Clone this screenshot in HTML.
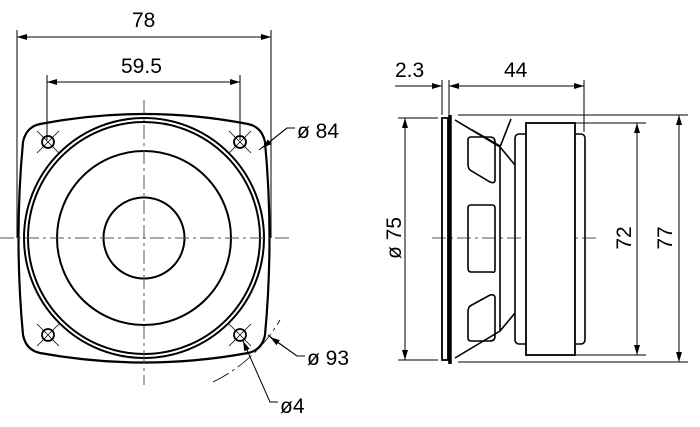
<!DOCTYPE html>
<html><head><style>body{margin:0;background:#fff}svg{display:block}text{font-family:"Liberation Sans",sans-serif;font-size:21px;fill:#000}</style></head><body>
<svg width="700" height="427" viewBox="0 0 700 427" xmlns="http://www.w3.org/2000/svg">
<defs><marker id="a" viewBox="0 0 10 6" refX="10" refY="3" markerWidth="10" markerHeight="6" orient="auto-start-reverse" markerUnits="userSpaceOnUse"><path d="M0,0L10,3L0,6z" fill="#000"/></marker></defs>
<g stroke="#000" fill="none">
<path d="M40,124 Q144,104 248,124 Q262,127 265,142 Q274,238 265,335 Q262,350 248,353 Q144,372 40,353 Q26,350 23,335 Q14,238 23,142 Q26,127 40,124 Z" stroke-width="2.2"/>
<circle cx="144" cy="238" r="120" stroke-width="2"/>
<circle cx="144" cy="238" r="116" stroke-width="2"/>
<circle cx="144" cy="238" r="87" stroke-width="2"/>
<circle cx="144" cy="238" r="40.5" stroke-width="2"/>
<g stroke-width="1.8"><circle cx="48" cy="142" r="6"/><circle cx="240" cy="142" r="6"/><circle cx="48" cy="335" r="6"/><circle cx="240" cy="335" r="6"/></g>
<g stroke-width="0.8"><path d="M37,131L59,153M59,131L37,153M229,131L251,153M251,131L229,153M37,324L59,346M59,324L37,346M229,324L251,346M251,324L229,346"/></g>
<g stroke="#555" stroke-width="1" stroke-dasharray="14,4,3,4"><path d="M0,238H292M144,100V385"/><path d="M432,238H600"/></g>
<g stroke-width="1"><path d="M17,30V238M271,30V238M47,75V140M240,75V140"/>
<path d="M17,37H271" marker-start="url(#a)" marker-end="url(#a)"/>
<path d="M47,82H240" marker-start="url(#a)" marker-end="url(#a)"/>
<path d="M287,128H295M287,128L259,150" /><path d="M287,128L262,148" marker-end="url(#a)"/>
<path d="M305,356H297L268,335" /><path d="M297,356L270,337" marker-end="url(#a)"/>
<path d="M278,402H270L243,341" marker-end="url(#a)"/>
<path d="M213,382 A157,157 0 0 0 280,320" stroke-dasharray="18,4,3,4" stroke-width="0.8"/>
</g>
<rect x="442" y="118" width="6" height="242" stroke-width="1.8"/>
<path d="M450,115V364" stroke-width="3.5"/>
<path d="M455,120L500,147L515,165M455,358L500,331L515,313M500,147V331" stroke-width="1.6"/>
<path d="M472,130L500,146M500,147L511,119" stroke-width="1.6"/>
<g stroke-width="1.6">
<path d="M471,137H490Q495,137 495,142V180Q495,184 490,182L470,170Q468,168 468,164V140Q468,137 471,137Z"/>
<path d="M471,205H492Q495,205 495,208V270Q495,273 492,272L471,272Q468,272 468,268V208Q468,205 471,205Z"/>
<path d="M470,306L490,295Q495,294 495,298V336Q495,341 490,341H471Q468,341 468,338V312Q468,308 470,306Z"/>
</g>
<rect x="515" y="134" width="70" height="210" rx="4" stroke-width="1.6"/>
<rect x="526" y="123" width="49" height="232" fill="#fff" stroke-width="1.8"/>
<g stroke-width="1"><path d="M442,80V115M449,80V115M584,80V132"/>
<path d="M395,86H442" marker-end="url(#a)"/><path d="M449,86H584" marker-start="url(#a)" marker-end="url(#a)"/>
<path d="M398,118H438M398,360H438M458,115H688M458,362H688M570,123H646M570,355H646"/>
<path d="M405,118V360" marker-start="url(#a)" marker-end="url(#a)"/>
<path d="M637,123V355" marker-start="url(#a)" marker-end="url(#a)"/>
<path d="M679,115V362" marker-start="url(#a)" marker-end="url(#a)"/>
</g>
</g>
<text x="132" y="27">78</text>
<text x="121" y="73">59.5</text>
<text x="297" y="138">ø 84</text>
<text x="307" y="365">ø 93</text>
<text x="280" y="413">ø4</text>
<text x="395" y="77">2.3</text>
<text x="504" y="77">44</text>
<text transform="translate(401,238) rotate(-90)" text-anchor="middle">ø 75</text>
<text transform="translate(631,238) rotate(-90)" text-anchor="middle">72</text>
<text transform="translate(672,238) rotate(-90)" text-anchor="middle">77</text>
</svg>
</body></html>
